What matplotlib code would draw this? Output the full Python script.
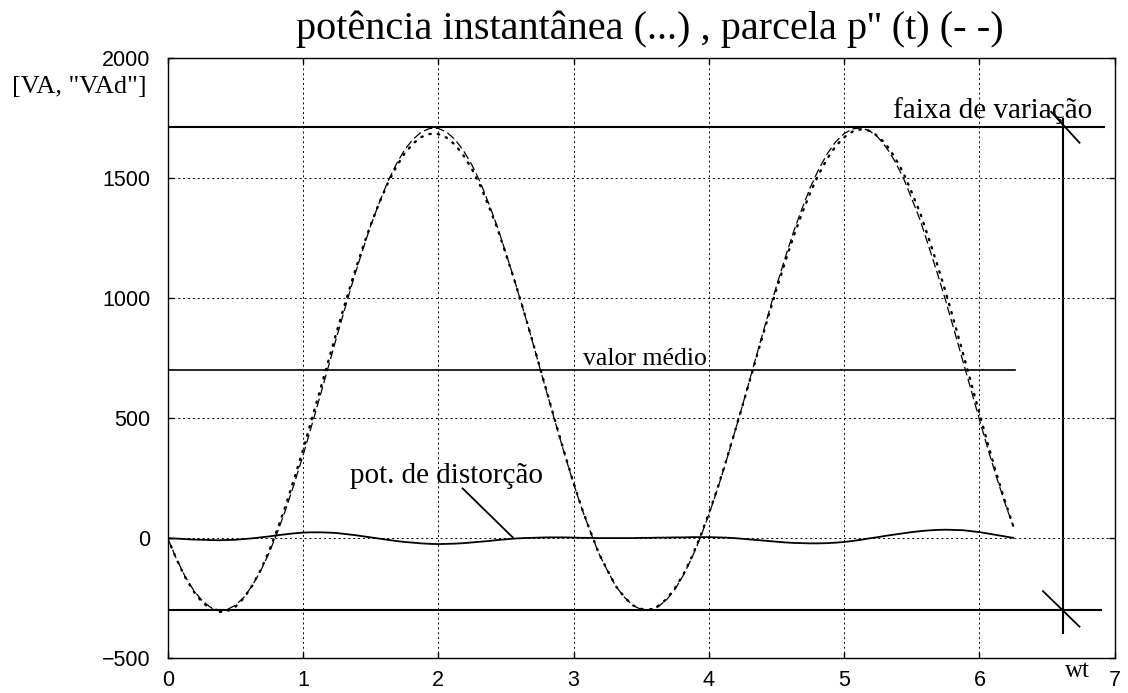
import numpy as np
import matplotlib.pyplot as plt

# wt samples, step 0.0625 from 0 to 6.25
wt = np.arange(0, 101) * 0.0625

# parcela p''(t) (dashed)
p_parcela = [0, -83, -155, -213, -257, -286, -299, -297, -279, -246,
             -197, -135, -60, 28, 125, 232, 345, 467, 590, 715,
             841, 963, 1083, 1195, 1302, 1397, 1484, 1557, 1618, 1662,
             1693, 1708, 1708, 1692, 1661, 1614, 1554, 1481, 1392, 1297,
             1188, 1077, 959, 837, 711, 587, 463, 343, 228, 121,
             26, -64, -134, -200, -245, -280, -296, -299, -285, -256,
             -212, -153, -81, 4, 99, 202, 315, 435, 557, 682,
             808, 931, 1052, 1166, 1275, 1372, 1462, 1538, 1602, 1652,
             1686, 1706, 1710, 1698, 1671, 1628, 1571, 1502, 1415, 1325,
             1217, 1107, 991, 869, 744, 620, 495, 373, 257, 149,
             50]

# potencia instantanea (dotted)
p_inst = [0, -84, -158, -218, -263, -293, -307, -304, -285, -249,
          -197, -131, -52, 41, 142, 253, 369, 492, 615, 739,
          863, 981, 1097, 1204, 1306, 1396, 1478, 1546, 1603, 1644,
          1672, 1685, 1684, 1669, 1639, 1594, 1537, 1467, 1381, 1290,
          1184, 1076, 960, 839, 714, 591, 467, 347, 231, 123,
          28, -63, -133, -199, -244, -279, -294, -297, -282, -253,
          -208, -149, -76, 9, 104, 206, 318, 436, 555, 677,
          800, 920, 1038, 1149, 1256, 1352, 1441, 1517, 1582, 1634,
          1671, 1695, 1704, 1698, 1676, 1639, 1587, 1523, 1441, 1355,
          1250, 1142, 1027, 904, 778, 650, 521, 393, 271, 157,
          52]

# potencia de distorcao (solid)
p_dist = [0, -1, -3, -5, -6, -7, -8, -7, -6, -3,
          0, 4, 8, 13, 17, 21, 24, 25, 25, 24,
          22, 18, 14, 9, 4, -1, -6, -11, -15, -18,
          -21, -23, -24, -23, -22, -20, -17, -14, -11, -7,
          -4, -1, 1, 2, 3, 4, 4, 4, 3, 2,
          2, 1, 1, 1, 1, 1, 2, 2, 3, 3,
          4, 4, 5, 5, 5, 4, 3, 1, -2, -5,
          -8, -11, -14, -17, -19, -20, -21, -21, -20, -18,
          -15, -11, -6, 0, 5, 11, 16, 21, 26, 30,
          33, 35, 36, 35, 34, 30, 26, 20, 14, 8,
          2]

p_max = 1715     # faixa de variacao, top
p_min = -300     # faixa de variacao, bottom
p_medio = 700    # valor medio

xticks = [0, 1, 2, 3, 4, 5, 6, 7]
yticks = [-500, 0, 500, 1000, 1500, 2000]

serif = 'Liberation Serif'
sans = 'Liberation Sans'

fig = plt.figure(figsize=(11.28, 6.93), dpi=100)
ax = fig.add_axes([0.1487, 0.0500, 0.8395, 0.8659])

ax.plot(wt, p_inst, color='black', lw=1.7, linestyle=(0, (0.6, 3.0)),
        dash_capstyle='round')
ax.plot(wt, p_parcela, color='black', lw=0.9, linestyle=(0, (7, 3)))
ax.plot(wt, p_dist, color='black', lw=1.3)

# limits of the range and the mean
ax.plot([0, 6.92], [p_max, p_max], color='black', lw=1.5)
ax.plot([0, 6.90], [p_min, p_min], color='black', lw=1.5)
ax.plot([0, 6.26], [p_medio, p_medio], color='black', lw=1.2)

# vertical dimension line with slanted end marks
ax.plot([6.62, 6.62], [-396, 1745], color='black', lw=1.5)
ax.plot([6.53, 6.74], [1777, 1648], color='black', lw=1.3)
ax.plot([6.47, 6.74], [-220, -368], color='black', lw=1.3)

# pointer for the distortion curve
ax.plot([2.18, 2.55], [208, 4], color='black', lw=1.3)

ax.text(5.358, 1750, 'faixa de variação', family=serif, fontsize=21,
        va='baseline')
ax.text(3.07, 722, 'valor médio', family=serif, fontsize=18.5,
        va='baseline')
ax.text(1.35, 229, 'pot. de distorção', family=serif, fontsize=21,
        va='baseline')
ax.text(6.633, -577, 'wt', family=serif, fontsize=18, va='baseline',
        clip_on=False)

ax.set_xlim(0, 7)
ax.set_ylim(-500, 2000)
ax.set_xticks(xticks)
ax.set_yticks(yticks)
ax.grid(True, color='black', lw=0.7, linestyle=(0, (2, 3)))
ax.tick_params(direction='in', length=4, width=1, top=True, right=True,
               labelsize=15.5)
ax.tick_params(axis='x', pad=8.5)
ax.tick_params(axis='y', pad=12.5)
for lab in ax.get_xticklabels() + ax.get_yticklabels():
    lab.set_family(sans)
for s in ax.spines.values():
    s.set_linewidth(1.0)

fig.text(0.576, 0.958, 'potência instantânea (...) , parcela p\'\' (t) (- -)',
         family=serif, fontsize=29, ha='center', va='center')
fig.text(0.0104, 0.8745, '[VA, "VAd"]', family=serif, fontsize=19,
         ha='left', va='center')

fig.savefig('out.png', dpi=100)
